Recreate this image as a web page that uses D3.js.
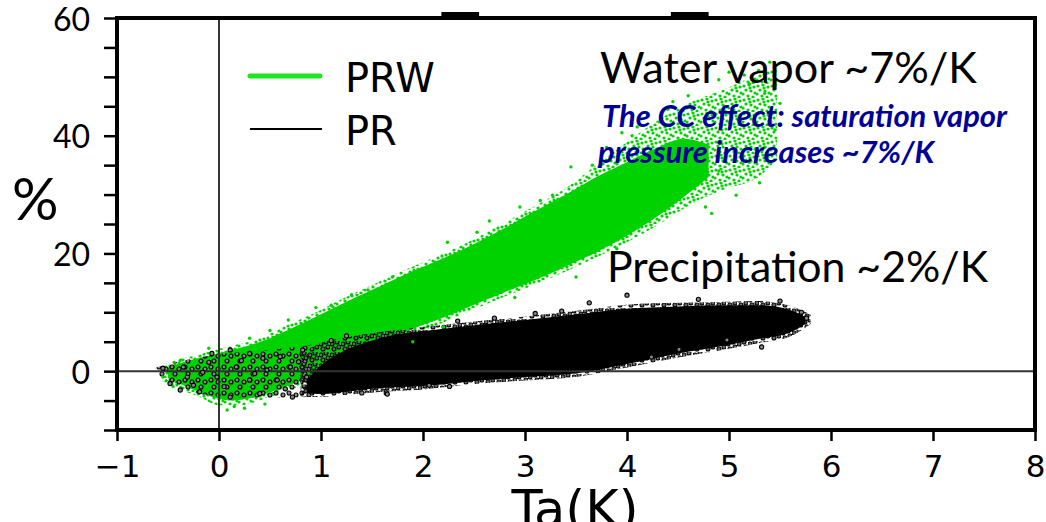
<!DOCTYPE html>
<html><head><meta charset="utf-8">
<script src="https://cdn.jsdelivr.net/npm/d3@7"></script>
<style>body{margin:0;background:#fff} svg{display:block}</style>
</head><body><svg id="c" width="1046" height="522"></svg>
<script>
// ---------------- data ----------------
const xTicks = [-1, 0, 1, 2, 3, 4, 5, 6, 7, 8];
const yTicks = [-10, -5, 0, 5, 10, 15, 20, 25, 30, 35, 40, 45, 50, 55, 60];
const yLabels = [0, 20, 40, 60];

// PRW (water vapor) cloud: outer envelope and dense core
const prwX  = [-0.55, -0.4, -0.2, 0.0, 0.2, 0.4, 0.6, 0.8, 1.0, 1.2, 1.45, 1.77, 2.09, 2.43, 2.75, 3.07, 3.41, 3.66, 3.99, 4.32, 4.64, 4.97, 5.29, 5.47];
const prwHi = [1.0, 2.0, 2.8, 3.8, 4.6, 5.6, 7.3, 8.8, 10.4, 12.2, 14.2, 16.8, 19.2, 21.8, 24.8, 27.8, 31.2, 34.5, 38.8, 42.8, 45.8, 48.0, 50.5, 51.5];
const prwLo = [-1.8, -3.0, -4.3, -5.8, -5.8, -5.0, -3.8, -2.5, -1.0, 1.0, 3.0, 5.5, 7.5, 10.0, 12.3, 14.5, 17.0, 19.0, 21.8, 25.0, 28.5, 31.0, 33.0, 36.0];
const prwCoreX  = [-0.5, -0.3, -0.1, 0.1, 0.3, 0.5, 0.7, 0.9, 1.1, 1.3, 1.6, 1.9, 2.2, 2.5, 2.8, 3.1, 3.4, 3.7, 4.0, 4.3, 4.55, 4.8];
const prwCoreHi = [0.6, 1.8, 2.6, 3.5, 4.4, 5.6, 7.2, 8.8, 10.5, 12.2, 14.6, 17.0, 19.2, 21.6, 24.3, 27.2, 30.0, 33.0, 35.5, 38.0, 39.5, 38.5];
const prwCoreLo = [-1.2, -2.8, -4.2, -5.0, -4.6, -3.6, -2.3, -0.9, 0.8, 2.6, 5.0, 7.2, 9.1, 11.3, 13.4, 15.5, 17.8, 20.2, 23.0, 26.3, 29.5, 33.0];
const prwPtX = [-0.55, -0.45, -0.38, 0.08, 0.25, 0.15, 0.45, 0.68, 0.5, 1.1, 1.46, 1.7, 2.24, 2.53, 2.95, 3.27, 3.45, 3.66, 3.8, 4.1, 4.4, 4.77, 4.83, 5.07, 5.15, 5.29, 5.4, 5.35, 5.2, 4.6, 3.9, 3.5, 2.9, 2.2, 1.9,
                4.9, 5.0, 5.45, 5.5, 5.45, 5.35, 5.2, 4.9, 5.3, 4.45, 4.2, 3.95, 4.55, 1.3, 0.95, 2.65, 3.15, 4.05, 0.3, -0.1];
const prwPtY = [-1.0, -2.6, 1.8, -6.6, -6.3, -6.0, -5.6, 8.7, 6.9, 11.2, 13.8, 16.0, 21.9, 23.6, 27.9, 29.9, 34.7, 35.0, 38.0, 41.5, 44.5, 27.9, 26.8, 29.9, 50.3, 51.1, 52.5, 47.2, 48.8, 46.8, 20.8, 16.0, 12.5, 7.5, 5.0,
                49.5, 50.8, 49.0, 45.5, 41.0, 38.0, 35.5, 34.0, 32.0, 45.8, 43.5, 40.5, 32.5, 13.0, 10.8, 25.5, 29.0, 40.0, 5.6, 3.9];

// PR (precipitation) cloud: mixed part near 0, outer envelope and dense core
const prMixX  = [-0.62, -0.4, -0.2, 0.0, 0.3, 0.6, 0.9];
const prMixHi = [0.6, 1.6, 2.3, 2.9, 3.3, 3.8, 4.5];
const prMixLo = [-0.5, -2.5, -3.8, -4.3, -4.5, -4.5, -4.4];
const prX  = [0.8, 1.0, 1.2, 1.6, 2.0, 2.55, 3.0, 3.53, 4.0, 4.5, 5.0, 5.3, 5.6, 5.8];
const prHi = [3.0, 4.8, 5.6, 6.7, 7.5, 8.5, 9.3, 10.3, 11.3, 11.6, 11.8, 11.9, 11.1, 9.6];
const prLo = [-4.3, -4.4, -4.1, -3.5, -3.1, -2.1, -1.6, -0.9, 0.6, 2.3, 3.8, 4.8, 5.9, 8.0];
const prCoreX  = [0.86, 1.0, 1.2, 1.5, 1.77, 2.1, 2.55, 3.0, 3.53, 4.0, 4.5, 5.0, 5.3, 5.6, 5.75];
const prCoreHi = [-1.5, 1.0, 3.2, 5.2, 6.3, 7.0, 7.9, 8.7, 9.7, 10.6, 11.0, 11.2, 11.2, 10.4, 9.2];
const prCoreLo = [-3.7, -3.9, -3.6, -3.0, -2.7, -2.4, -1.6, -1.0, -0.3, 1.2, 3.0, 4.5, 5.5, 6.6, 8.0];
const prPtX = [-0.55, -0.35, -0.25, -0.19, -0.38, -0.48, -0.31, -0.16, -0.07, -0.02, 0.11, 0.17, 0.11, 0.3, 0.3, 0.43, 0.47, 0.57, 0.4, 0.7, 0.72, 0.82, 0.86, 1.40, 1.64, 1.65, 2.06, 2.26, 2.34, 3.36, 3.63, 4.0, 4.24, 4.51, 4.98, 5.32, 5.71, 5.76,
               0.05, 0.22, 0.6, 0.65, -0.1, 0.35, 0.78, 1.1, 1.25, 2.7, 3.1, 4.7, 5.5];
const prPtY = [0.5, 0.7, -2.4, -3.5, -3.2, -2.1, -1.0, -0.2, 3.0, -1.0, 3.6, 0.7, -4.4, 3.0, -1.5, 2.2, 0.2, -1.5, -3.8, 0.7, -4.4, 3.6, -1.0, -3.7, -3.7, -3.9, -2.4, -2.6, 8.5, 10.2, 11.6, 12.9, 2.4, 3.7, 5.3, 4.1, 10.0, 9.0,
               -2.6, 1.8, 2.5, -3.0, 1.5, -0.4, 1.6, 5.2, 6.0, 9.0, 9.8, 12.2, 11.9];

const topMarks = [[2.18, 2.55], [4.43, 4.80]];
const legendNames = ["PRW", "PR"];
const notes = ["Water vapor ~7%/K", "Precipitation ~2%/K"];
const ccNote = ["The CC effect: saturation vapor", "pressure increases ~7%/K"];

// ---------------- drawing ----------------
const GREEN = "#00d200";
const svg = d3.select("#c");
const x = d3.scaleLinear().domain([-1, 8]).range([117, 1035]);
const y = d3.scaleLinear().domain([-10, 60]).range([430, 18]);

const defs = svg.append("defs");
function pat(id, w, h, pts, r, fill, stroke, sw) {
  const p = defs.append("pattern").attr("id", id).attr("patternUnits", "userSpaceOnUse")
    .attr("width", w).attr("height", h);
  p.selectAll("circle").data(pts).join("circle")
    .attr("cx", d => d[0]).attr("cy", d => d[1]).attr("r", r)
    .attr("fill", fill).attr("stroke", stroke).attr("stroke-width", sw);
}
pat("gdots", 14, 14, [[2,2],[7,1],[12,3],[4,6],[9,7],[13,9],[1,10],[6,12],[11,13],[8,4]], 1.6, GREEN, "none", 0);
pat("bdots", 11, 11, [[2,3],[7,1],[9,6],[4,8]], 2.0, "#666", "#000", 1.1);
pat("bmix", 13, 13, [[3,3],[10,5],[6,10]], 2.0, "#888", "#000", 1.1);

const band = (X, Lo, Hi) => X.map((v, i) => ({x: v, lo: Lo[i], hi: Hi[i]}));
const area = d3.area().x(d => x(d.x)).y0(d => y(d.lo)).y1(d => y(d.hi)).curve(d3.curveMonotoneX);

const plot = svg.append("g");
plot.append("path").datum(band(prwX, prwLo, prwHi)).attr("d", area).attr("fill", "url(#gdots)");
plot.append("path").datum(band(prwCoreX, prwCoreLo, prwCoreHi)).attr("d", area).attr("fill", GREEN);
plot.append("path").datum(band(prMixX, prMixLo, prMixHi)).attr("d", area).attr("fill", "url(#bmix)");
plot.append("path").datum(band(prX, prLo, prHi)).attr("d", area).attr("fill", "url(#bdots)");
plot.append("path").datum(band(prCoreX, prCoreLo, prCoreHi)).attr("d", area).attr("fill", "#000");

// zero lines
plot.append("line").attr("x1", x(-1)).attr("x2", x(8)).attr("y1", y(0)).attr("y2", y(0))
  .attr("stroke", "#333").attr("stroke-width", 2);
plot.append("line").attr("x1", x(0)).attr("x2", x(0)).attr("y1", y(-10)).attr("y2", y(60))
  .attr("stroke", "#333").attr("stroke-width", 2);

plot.selectAll(".gp").data(prwPtX.map((v, i) => [v, prwPtY[i]])).join("circle")
  .attr("cx", d => x(d[0])).attr("cy", d => y(d[1])).attr("r", 1.7).attr("fill", GREEN);
plot.selectAll(".bp").data(prPtX.map((v, i) => [v, prPtY[i]])).join("circle")
  .attr("cx", d => x(d[0])).attr("cy", d => y(d[1])).attr("r", 2.1)
  .attr("fill", "#888").attr("stroke", "#000").attr("stroke-width", 1.1);

// top marks
svg.selectAll(".tm").data(topMarks).join("rect")
  .attr("x", d => x(d[0])).attr("width", d => x(d[1]) - x(d[0]))
  .attr("y", y(60) - 6).attr("height", 6).attr("fill", "#000");

// frame
svg.append("rect").attr("x", x(-1)).attr("y", y(60)).attr("width", x(8) - x(-1)).attr("height", y(-10) - y(60))
  .attr("fill", "none").attr("stroke", "#000").attr("stroke-width", 4);

// axes
const ax = svg.append("g").attr("transform", `translate(0,${y(-10)})`)
  .call(d3.axisBottom(x).tickValues(xTicks).tickSize(11).tickPadding(14).tickSizeOuter(0));
ax.select(".domain").remove();
ax.selectAll("line").attr("stroke-width", 2.5);
ax.selectAll("text").attr("font-family", "DejaVu Sans").attr("font-size", 31).attr("fill", "#000");

const ay = svg.append("g").attr("transform", `translate(${x(-1)},0)`)
  .call(d3.axisLeft(y).tickValues(yTicks).tickSize(13).tickPadding(14).tickSizeOuter(0)
    .tickFormat(d => yLabels.includes(d) ? d : ""));
ay.select(".domain").remove();
ay.selectAll("line").attr("stroke-width", 2.5);
ay.selectAll("text").attr("font-family", "Lato").attr("font-size", 32).attr("fill", "#000").attr("dy", "0.38em");

svg.append("text").attr("x", 575).attr("y", 527).attr("text-anchor", "middle")
  .attr("font-family", "DejaVu Sans").attr("font-size", 51).text("Ta(K)");
svg.append("text").attr("x", 12).attr("y", 220)
  .attr("font-family", "Lato").attr("font-size", 58).text("%");

// legend
svg.append("line").attr("x1", 250).attr("x2", 320).attr("y1", 76).attr("y2", 76)
  .attr("stroke", "#1ee61e").attr("stroke-width", 5).attr("stroke-linecap", "round");
svg.append("line").attr("x1", 250).attr("x2", 322).attr("y1", 129).attr("y2", 129)
  .attr("stroke", "#000").attr("stroke-width", 2);
svg.selectAll(".lg").data(legendNames).join("text")
  .attr("x", 345).attr("y", (d, i) => 92 + i * 53)
  .attr("font-family", "DejaVu Sans").attr("font-size", 40).text(d => d);

function fit(sel, w) {
  const cur = sel.node().getComputedTextLength();
  const fs = +sel.attr("font-size");
  sel.attr("font-size", (fs * w / cur).toFixed(2));
  return fs * w / cur;
}
const t1 = svg.append("text").attr("x", 600).attr("y", 83).attr("font-family", "Lato").attr("font-size", 40).text(notes[0]);
fit(t1, 377);
const t2 = svg.append("text").attr("x", 607).attr("y", 282).attr("font-family", "Lato").attr("font-size", 40).text(notes[1]);
fit(t2, 381);
const c1 = svg.append("text").attr("x", 602).attr("y", 127).attr("font-family", "Lato").attr("font-weight", "bold")
  .attr("font-style", "italic").attr("font-size", 25).attr("fill", "#000099").text(ccNote[0]);
const cfs = fit(c1, 405);
svg.append("text").attr("x", 598).attr("y", 163).attr("font-family", "Lato").attr("font-weight", "bold")
  .attr("font-style", "italic").attr("font-size", cfs.toFixed(2)).attr("fill", "#000099").text(ccNote[1]);
</script></body></html>
